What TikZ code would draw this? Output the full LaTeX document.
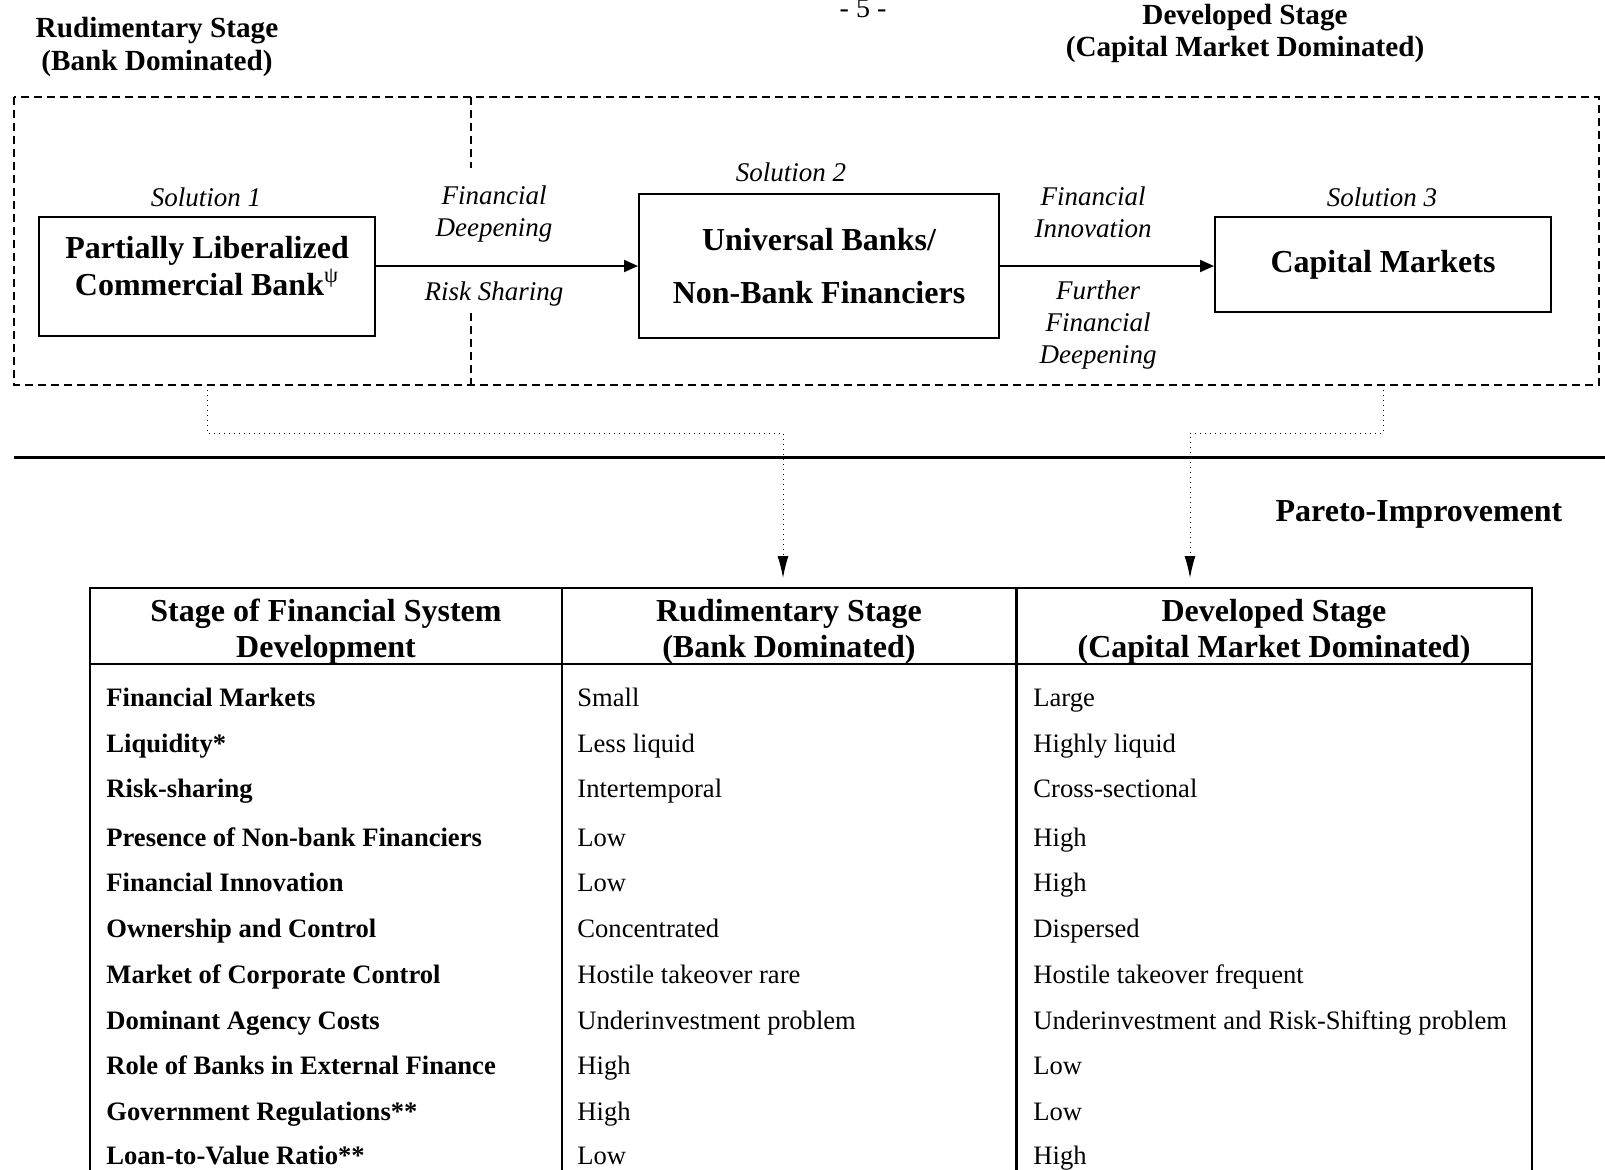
\documentclass[tikz,border=0pt]{standalone}
\usepackage{fontspec}
\setmainfont{Liberation Serif}
\usetikzlibrary{arrows.meta,positioning,calc}

\begin{document}
\begin{tikzpicture}[x=0.5pt, y=-0.5pt,
  stage frame/.style={dash pattern=on 4pt off 2.5pt, line width=0.75pt},
  sol box/.style={draw, line width=1pt, inner sep=0pt},
  box text/.style={font=\bfseries\fontsize{16pt}{18.4pt}\selectfont, align=center},
  sol label/.style={font=\itshape\fontsize{13.5pt}{15.8pt}\selectfont, align=center},
  stage title/.style={font=\bfseries\fontsize{14.6pt}{16.4pt}\selectfont, align=center},
  col head/.style={font=\bfseries\fontsize{16pt}{18pt}\selectfont, align=center},
  row head/.style={font=\bfseries\fontsize{13.3pt}{16pt}\selectfont, anchor=west, inner sep=0pt, text height=9.5pt, text depth=3pt, yshift=-1.25pt},
  row val/.style={font=\fontsize{13.3pt}{16pt}\selectfont, anchor=west, inner sep=0pt, text height=9.5pt, text depth=3pt, yshift=-1.25pt},
  table rule/.style={line width=1.3pt},
  flow/.style={line width=1pt, -{Triangle[length=7pt,width=6pt]}},
  link/.style={dotted, line width=0.5pt, -{Latex[length=11pt,width=5.5pt]}}]
\useasboundingbox (0,0) rectangle (1605,1169);

% stage titles
\node[font=\fontsize{14pt}{16pt}\selectfont, anchor=base] (pagenum) at (863,17) {- 5 -};
\node[stage title] (rudtitle) at (157,47) {Rudimentary Stage\\(Bank Dominated)};
\node[stage title] (devtitle) at (1245,33.5) {Developed Stage\\(Capital Market Dominated)};

% dashed frame with the stage divider
\coordinate (frameNW) at (14,97);
\coordinate (frameSE) at (1599,385);
\draw[stage frame] (frameNW) rectangle (frameSE);
\coordinate (divtop) at (471,97);
\coordinate (divA) at (471,168);
\coordinate (divB) at (471,313);
\coordinate (divbot) at (471,385);
\draw[stage frame] (divtop) -- (divA);
\draw[stage frame] (divB) -- (divbot);

% the three solutions
\begin{scope}
\node[sol box, minimum width=168pt, minimum height=59.5pt] (box1) at (207,276.5) {};
\node[box text] (box1txt) at (207,266) {Partially Liberalized\\Commercial Bank\textsuperscript{\normalfont ψ}};
\node[sol box, box text, font=\bfseries\fontsize{16pt}{26.6pt}\selectfont, minimum width=180pt, minimum height=72.25pt] (box2) at (819,266) {Universal Banks/\\Non-Bank Financiers};
\node[sol box, box text, minimum width=168pt, minimum height=47.5pt] (box3) at (1383,264.5) {Capital Markets};
\node[sol label] (sol1) at (206,197) {Solution 1};
\node[sol label] (sol2) at (791,172) {Solution 2};
\node[sol label] (sol3) at (1382,197) {Solution 3};
\node[sol label] (deep) at (494,214) {Financial\\Deepening};
\node[sol label] (risk) at (494,294) {Risk Sharing};
\node[sol label] (innov) at (1093,212) {Financial\\Innovation};
\node[sol label] (further) at (1098,325) {Further\\Financial\\Deepening};
\end{scope}
\draw[flow] (box1.east |- box2.west) -- (box2.west);
\draw[flow] (box2.east) -- (box3.west |- box2.east);

% dotted links down to the table
\coordinate (bendL) at (783,433);
\coordinate (tipL) at (783,578);
\coordinate (bendR) at (1190,433);
\coordinate (tipR) at (1190,578);
\draw[link] (box1 |- frameSE) |- (bendL) -- (tipL);
\draw[link] (box3 |- frameSE) |- (bendR) -- (tipR);

\draw[line width=1.5pt] (14,457) -- (1605,457);
\node[font=\bfseries\fontsize{16pt}{18pt}\selectfont] (pareto) at (1419,514) {Pareto-Improvement};

% table
\draw[table rule] (90,1190) -- (90,588) -- (1532,588) -- (1532,1190);
\draw[table rule] (90,664) -- (1532,664);
\draw[table rule] (562,588) -- (562,1190);
\draw[table rule] (1016.5,588) -- (1016.5,1190);
\node[col head] (head1) at (326,632) {Stage of Financial System\\Development};
\node[col head] (head2) at (789,632) {Rudimentary Stage\\(Bank Dominated)};
\node[col head] (head3) at (1274,632) {Developed Stage\\(Capital Market Dominated)};
\foreach \y/\what/\rud/\dev [count=\i] in {
  697/{Financial Markets}/{Small}/{Large},
  743/{Liquidity*}/{Less liquid}/{Highly liquid},
  788/{Risk-sharing}/{Intertemporal}/{Cross-sectional},
  837/{Presence of Non-bank Financiers}/{Low}/{High},
  882/{Financial Innovation}/{Low}/{High},
  928/{Ownership and Control}/{Concentrated}/{Dispersed},
  974.5/{Market of Corporate Control}/{Hostile takeover rare}/{Hostile takeover frequent},
  1020.5/{Dominant Agency Costs}/{Underinvestment problem}/{Underinvestment and Risk-Shifting problem},
  1065.5/{Role of Banks in External Finance}/{High}/{Low},
  1111.5/{Government Regulations**}/{High}/{Low},
  1155.6/{Loan-to-Value Ratio**}/{Low}/{High}} {
  \node[row head] (what\i) at (106,\y) {\what};
  \node[row val] (rud\i) at (577,\y) {\rud};
  \node[row val] (dev\i) at (1033,\y) {\dev};
}
\end{tikzpicture}
\end{document}
